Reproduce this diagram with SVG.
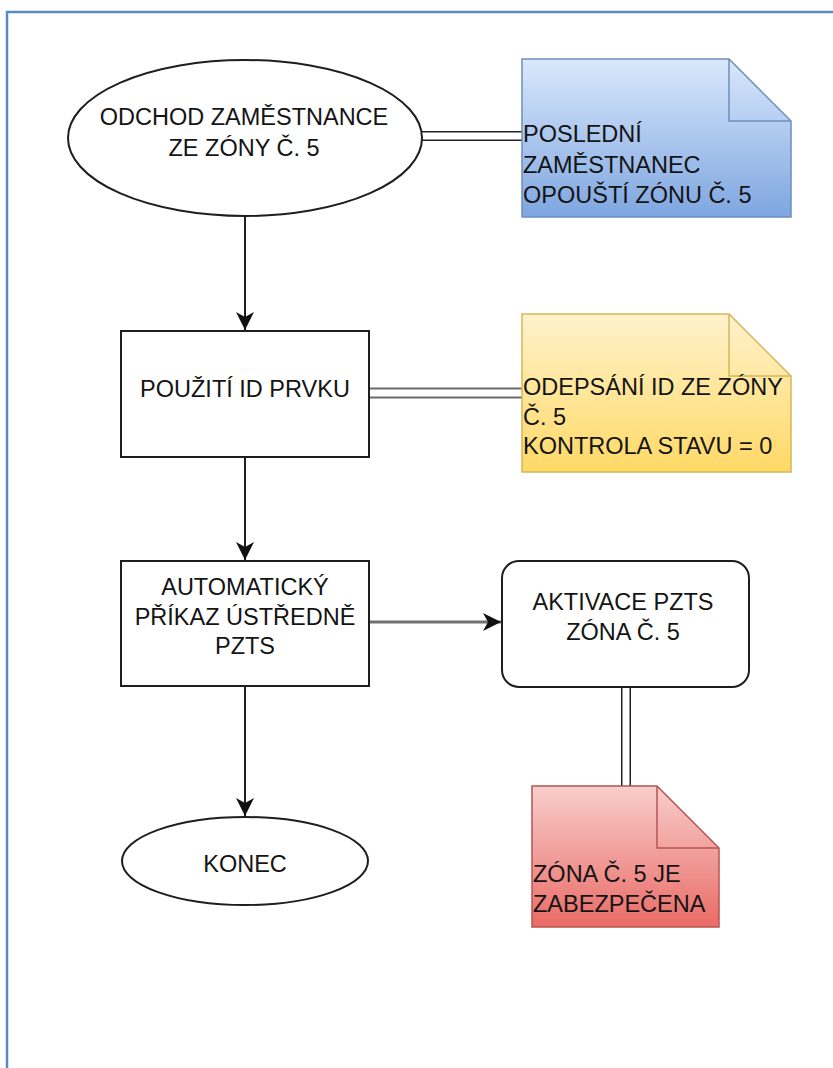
<svg xmlns="http://www.w3.org/2000/svg" width="833" height="1068" viewBox="0 0 833 1068">
  <style>
    .shape { fill: #ffffff; stroke: #1e1e1e; stroke-width: 2; }
    .label { font-family: "Liberation Sans", Arial, sans-serif; font-size: 23.5px; fill: #141414; }
    .mid { text-anchor: middle; }
    .flow { fill: none; stroke: #1e1e1e; stroke-width: 2; }
    .flow-grey { fill: none; stroke: #707070; stroke-width: 3; }
    .fold { fill: none; stroke-width: 1.5; }
  </style>
  <defs>
    <linearGradient id="gBlue" x1="0" y1="0" x2="0" y2="1">
      <stop offset="0" stop-color="#dae8fc"/>
      <stop offset="1" stop-color="#7ea6e0"/>
    </linearGradient>
    <linearGradient id="gYellow" x1="0" y1="0" x2="0" y2="1">
      <stop offset="0" stop-color="#fff2cc"/>
      <stop offset="1" stop-color="#ffd966"/>
    </linearGradient>
    <linearGradient id="gRed" x1="0" y1="0" x2="0" y2="1">
      <stop offset="0" stop-color="#f8cecc"/>
      <stop offset="1" stop-color="#ea6b66"/>
    </linearGradient>
    <marker id="arrow" markerUnits="userSpaceOnUse" markerWidth="20" markerHeight="18" viewBox="0 0 20 18" refX="18" refY="9" orient="auto">
      <path d="M0,0 L18,9 L0,18 L5,9 Z" fill="#111111"/>
    </marker>
  </defs>

  <!-- page frame -->
  <rect x="7" y="12" width="840" height="1070" fill="#ffffff" stroke="#5a8ac6" stroke-width="2.5"/>

  <!-- connectors -->
  <g id="connectors">
    <line class="flow" x1="245" y1="216" x2="245" y2="330" marker-end="url(#arrow)"/>
    <line class="flow" x1="245" y1="457" x2="245" y2="560" marker-end="url(#arrow)"/>
    <line class="flow" x1="245" y1="686" x2="245" y2="816" marker-end="url(#arrow)"/>
    <line class="flow-grey" x1="369" y1="622" x2="501" y2="622" marker-end="url(#arrow)"/>
    <!-- double links to notes -->
    <line x1="421" y1="136" x2="522" y2="136" stroke="#222222" stroke-width="10"/>
    <line x1="421" y1="136" x2="522" y2="136" stroke="#ffffff" stroke-width="7"/>
    <line x1="369" y1="393" x2="522" y2="393" stroke="#6a6a6a" stroke-width="11"/>
    <line x1="369" y1="393" x2="522" y2="393" stroke="#ffffff" stroke-width="7"/>
    <line x1="626" y1="687" x2="626" y2="786" stroke="#222222" stroke-width="10"/>
    <line x1="626" y1="687" x2="626" y2="786" stroke="#ffffff" stroke-width="7"/>
  </g>

  <g id="start">
    <ellipse class="shape" cx="245" cy="138" rx="177" ry="78"/>
    <text class="label mid" x="244" y="125">ODCHOD ZAMĚSTNANCE</text>
    <text class="label mid" x="244" y="156">ZE ZÓNY Č. 5</text>
  </g>

  <g id="note-employee">
    <path d="M522,59 H729 L791,121 V217 H522 Z" fill="url(#gBlue)" stroke="#6c8ebf" stroke-width="1.5"/>
    <path class="fold" d="M729,59 V121 H791" stroke="#6c8ebf"/>
    <text class="label" x="523" y="142">POSLEDNÍ</text>
    <text class="label" x="523" y="173">ZAMĚSTNANEC</text>
    <text class="label" x="523" y="203">OPOUŠTÍ ZÓNU Č. 5</text>
  </g>

  <g id="use-id">
    <rect class="shape" x="121" y="331" width="248" height="126"/>
    <text class="label mid" x="245" y="397">POUŽITÍ ID PRVKU</text>
  </g>

  <g id="note-id">
    <path d="M522,314 H729 L791,376 V472 H522 Z" fill="url(#gYellow)" stroke="#d6b656" stroke-width="1.5"/>
    <path class="fold" d="M729,314 V376 H791" stroke="#d6b656"/>
    <text class="label" x="523" y="395">ODEPSÁNÍ ID ZE ZÓNY</text>
    <text class="label" x="523" y="425">Č. 5</text>
    <text class="label" x="523" y="454">KONTROLA STAVU = 0</text>
  </g>

  <g id="auto-command">
    <rect class="shape" x="121" y="561" width="248" height="125"/>
    <text class="label mid" x="245" y="595">AUTOMATICKÝ</text>
    <text class="label mid" x="245" y="625">PŘÍKAZ ÚSTŘEDNĚ</text>
    <text class="label mid" x="245" y="654">PZTS</text>
  </g>

  <g id="activation">
    <rect class="shape" x="502" y="561" width="247" height="126" rx="17" ry="17"/>
    <text class="label mid" x="623" y="610">AKTIVACE PZTS</text>
    <text class="label mid" x="623" y="640">ZÓNA Č. 5</text>
  </g>

  <g id="note-secured">
    <path d="M532,786 H657 L719,848 V927 H532 Z" fill="url(#gRed)" stroke="#b85450" stroke-width="1.5"/>
    <path class="fold" d="M657,786 V848 H719" stroke="#b85450"/>
    <text class="label" x="533" y="882">ZÓNA Č. 5 JE</text>
    <text class="label" x="533" y="912">ZABEZPEČENA</text>
  </g>

  <g id="end">
    <ellipse class="shape" cx="245" cy="861" rx="123" ry="44"/>
    <text class="label mid" x="245" y="872">KONEC</text>
  </g>
</svg>
